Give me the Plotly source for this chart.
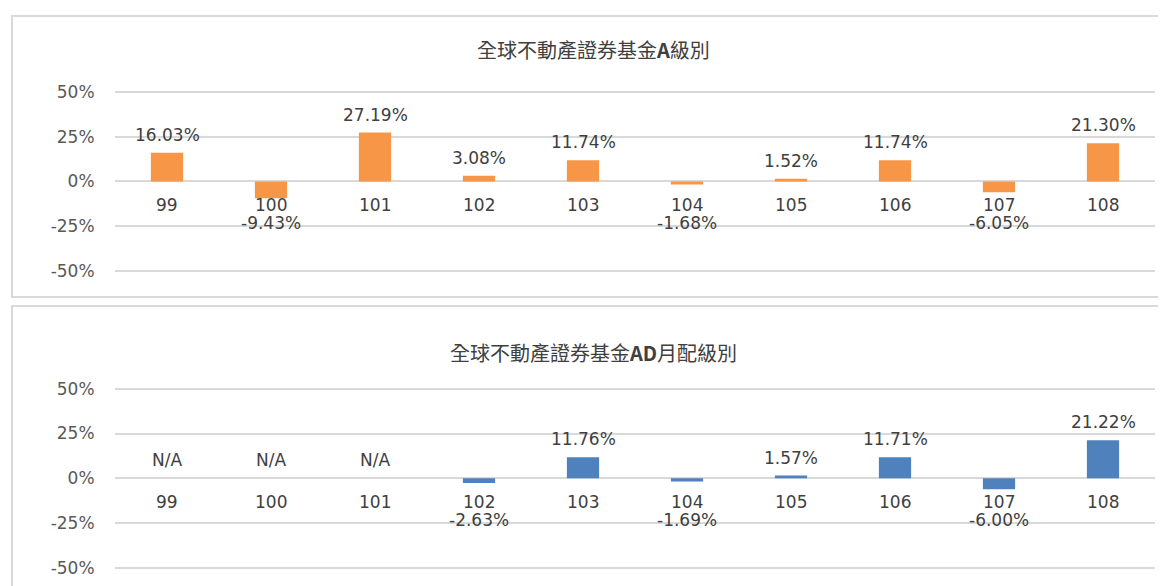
import plotly.graph_objects as go

years = ["99", "100", "101", "102", "103", "104", "105", "106", "107", "108"]
fund_a = [16.03, -9.43, 27.19, 3.08, 11.74, -1.68, 1.52, 11.74, -6.05, 21.30]
fund_ad = [None, None, None, -2.63, 11.76, -1.69, 1.57, 11.71, -6.00, 21.22]
title_a = "全球不動產證券基金<b>A</b>級別"
title_ad = "全球不動產證券基金<b>AD</b>月配級別"
y_ticks = [-0.5, -0.25, 0, 0.25, 0.5]
y_tick_text = ["-50%", "-25%", "0%", "25%", "50%"]

OFF = 8  # page body margin
W, H = 1166 - OFF, 586 - OFF
FONT = "DejaVu Sans"
GRID = "#d9d9d9"
LABEL = "#404040"
TICK = "#595959"
FS = 17

def px_x(px):
    return (px - OFF) / W

def px_y(px):
    return 1 - (px - OFF) / H

fig = go.Figure()

panels = [
    dict(vals=fund_a, color="#f79646", xa="x", ya="y", title=title_a, ty=49),
    dict(vals=fund_ad, color="#4f81bd", xa="x2", ya="y2", title=title_ad, ty=353),
]

annotations = []
for p in panels:
    fig.add_trace(go.Bar(
        x=list(range(len(years))), y=[None if v is None else v / 100 for v in p["vals"]],
        marker=dict(color=p["color"], line=dict(width=0)),
        width=0.31, xaxis=p["xa"], yaxis=p["ya"], showlegend=False,
        hoverinfo="skip",
    ))
    xref = p["xa"]
    yref = p["ya"]
    for i, (yr, v) in enumerate(zip(years, p["vals"])):
        annotations.append(dict(x=i, y=0, xref=xref, yref=yref, text=yr, showarrow=False,
                                yshift=-24, font=dict(family=FONT, size=FS, color=LABEL)))
        if v is None:
            annotations.append(dict(x=i, y=0, xref=xref, yref=yref, text="N/A", showarrow=False,
                                    yshift=18, font=dict(family=FONT, size=FS, color=LABEL)))
        elif v >= 0:
            annotations.append(dict(x=i, y=v / 100, xref=xref, yref=yref, text=f"{v:.2f}%",
                                    showarrow=False, yshift=18,
                                    font=dict(family=FONT, size=FS, color=LABEL)))
        else:
            annotations.append(dict(x=i, y=0, xref=xref, yref=yref, text=f"{v:.2f}%",
                                    showarrow=False, yshift=-42,
                                    font=dict(family=FONT, size=FS, color=LABEL)))
    annotations.append(dict(x=px_x(593), y=px_y(p["ty"]), xref="paper", yref="paper", text=p["title"],
                            showarrow=False, xanchor="center", yanchor="middle",
                            font=dict(family="Noto Sans CJK TC", size=20, color="#404040")))

axis_common = dict(
    tickvals=y_ticks, ticktext=y_tick_text, range=[-0.55, 0.55], showgrid=True,
    gridcolor=GRID, gridwidth=1.5, zeroline=True, zerolinecolor=GRID, zerolinewidth=1.5,
    ticks="outside", ticklen=16, tickcolor="rgba(0,0,0,0)", showline=False,
    tickfont=dict(family=FONT, size=FS, color=TICK), fixedrange=True,
)
xcommon = dict(domain=[px_x(115), px_x(1155)], showticklabels=False, showgrid=False,
               zeroline=False, showline=False, ticks="", range=[-0.5, 9.5], fixedrange=True)

fig.update_layout(
    width=W, height=H, margin=dict(l=0, r=0, t=0, b=0),
    paper_bgcolor="white", plot_bgcolor="white",
    xaxis=dict(**xcommon, anchor="y"),
    xaxis2=dict(**xcommon, anchor="y2"),
    yaxis=dict(**axis_common, domain=[px_y(280), px_y(82)], anchor="x"),
    yaxis2=dict(**axis_common, domain=[px_y(578), px_y(380)], anchor="x2"),
    annotations=annotations,
    shapes=[
        dict(type="rect", xref="paper", yref="paper", x0=px_x(12), x1=px_x(1185), y0=px_y(297), y1=px_y(15),
             line=dict(color=GRID, width=2), layer="below"),
        dict(type="rect", xref="paper", yref="paper", x0=px_x(12), x1=px_x(1185), y0=px_y(610), y1=px_y(306),
             line=dict(color=GRID, width=2), layer="below"),
    ],
)

fig.write_html("out.html")
